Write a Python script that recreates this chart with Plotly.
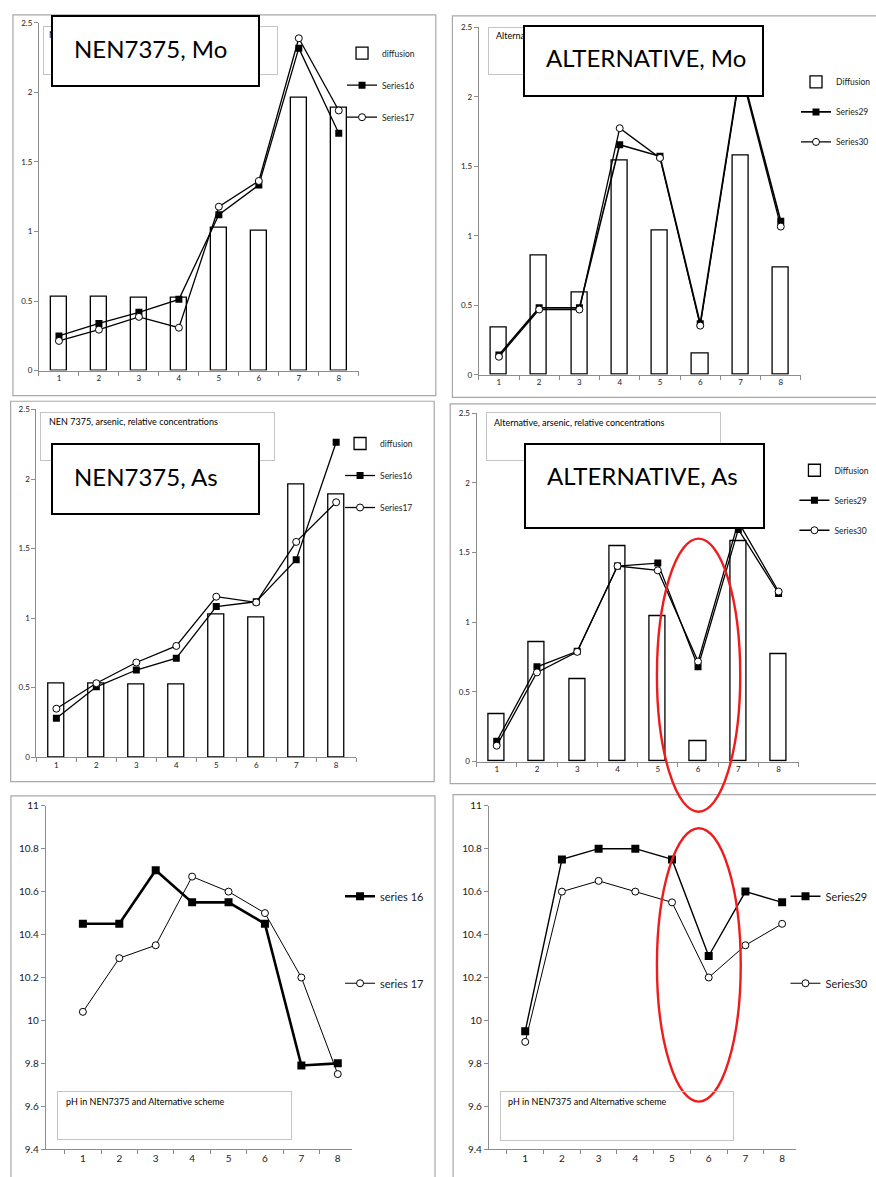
import plotly.graph_objects as go

W, H = 876, 1177

# ---------------------------------------------------------------- data
categories = ["1", "2", "3", "4", "5", "6", "7", "8"]

nen_diffusion = [0.533, 0.530, 0.525, 0.520, 1.026, 1.007, 1.962, 1.890]
alt_diffusion = [0.342, 0.856, 0.592, 1.545, 1.042, 0.150, 1.578, 0.774]

nen_mo_series16 = [0.249, 0.339, 0.419, 0.512, 1.121, 1.334, 2.318, 1.706]
nen_mo_series17 = [0.213, 0.294, 0.386, 0.308, 1.178, 1.363, 2.389, 1.870]
alt_mo_series29 = [0.143, 0.482, 0.482, 1.656, 1.573, 0.368, 2.21, 1.105]
alt_mo_series30 = [0.130, 0.470, 0.470, 1.775, 1.561, 0.354, 2.19, 1.067]

nen_as_series16 = [0.280, 0.506, 0.627, 0.712, 1.083, 1.118, 1.420, 2.265]
nen_as_series17 = [0.349, 0.532, 0.681, 0.800, 1.154, 1.113, 1.548, 1.833]
alt_as_series29 = [0.145, 0.680, 0.791, 1.403, 1.424, 0.680, 1.666, 1.206]
alt_as_series30 = [0.114, 0.640, 0.787, 1.403, 1.372, 0.718, 1.720, 1.220]

ph_series16 = [10.45, 10.45, 10.70, 10.55, 10.55, 10.45, 9.79, 9.80]
ph_series17 = [10.04, 10.29, 10.35, 10.67, 10.60, 10.50, 10.20, 9.75]
ph_series29 = [9.95, 10.75, 10.80, 10.80, 10.75, 10.30, 10.60, 10.55]
ph_series30 = [9.90, 10.60, 10.65, 10.60, 10.55, 10.20, 10.35, 10.45]

conc_ticks = [0, 0.5, 1, 1.5, 2, 2.5]
conc_tick_labels = ["0", "0.5", "1", "1.5", "2", "2.5"]
ph_ticks = [9.4, 9.6, 9.8, 10.0, 10.2, 10.4, 10.6, 10.8, 11.0]
ph_tick_labels = ["9.4", "9.6", "9.8", "10", "10.2", "10.4", "10.6", "10.8", "11"]

FONT = "Lato, Carlito, Calibri, sans-serif"
AXIS_GREY = "#8c8c8c"
FRAME_GREY = "#a8a8a8"
BOX_GREY = "#c4c4c4"
INK = "#1a1a1a"


def fx(p):
    return p / W


def fy(p):
    return 1 - p / H


fig = go.Figure()


def add_bar(n, name, values, legend):
    fig.add_trace(go.Bar(
        x=categories, y=values, name=name, width=0.4,
        marker=dict(color="white", line=dict(color="black", width=1.3)),
        xaxis=f"x{n}", yaxis=f"y{n}", legend=legend, legendgroup=f"{legend}-{name}",
    ))


def add_line(n, name, values, filled, legend, width=1.3, size=7):
    if filled:
        marker = dict(symbol="square", size=size, color="black",
                      line=dict(color="black", width=0))
    else:
        marker = dict(symbol="circle", size=size, color="white",
                      line=dict(color="black", width=1))
    fig.add_trace(go.Scatter(
        x=categories, y=values, name=name, mode="lines+markers",
        line=dict(color="black", width=width), marker=marker,
        xaxis=f"x{n}", yaxis=f"y{n}", legend=legend, legendgroup=f"{legend}-{name}",
    ))


# concentration panels: bars + two lines
add_bar(1, "diffusion", nen_diffusion, "legend")
add_line(1, "Series16", nen_mo_series16, True, "legend")
add_line(1, "Series17", nen_mo_series17, False, "legend")

add_bar(2, "Diffusion", alt_diffusion, "legend2")
add_line(2, "Series29", alt_mo_series29, True, "legend2", width=1.6)
add_line(2, "Series30", alt_mo_series30, False, "legend2")

add_bar(3, "diffusion", nen_diffusion, "legend3")
add_line(3, "Series16", nen_as_series16, True, "legend3")
add_line(3, "Series17", nen_as_series17, False, "legend3")

add_bar(4, "Diffusion", alt_diffusion, "legend4")
add_line(4, "Series29", alt_as_series29, True, "legend4")
add_line(4, "Series30", alt_as_series30, False, "legend4")

# pH panels
add_line(5, "series 16", ph_series16, True, "legend5", width=2.6, size=8)
add_line(5, "series 17", ph_series17, False, "legend5", width=1.0, size=7)
add_line(6, "Series29", ph_series29, True, "legend6", width=1.4, size=8)
add_line(6, "Series30", ph_series30, False, "legend6", width=1.0, size=7)

# ---------------------------------------------------------------- axes
layout = dict(
    width=W, height=H, margin=dict(l=0, r=0, t=0, b=0),
    paper_bgcolor="white", plot_bgcolor="white",
    font=dict(family=FONT, color=INK),
    bargap=0, showlegend=True,
)


def set_axes(n, x0, x1, ytop, ybot, xrange, yrange, ytv, ytt, fsize):
    suffix = "" if n == 1 else str(n)
    layout[f"xaxis{suffix}"] = dict(
        domain=[fx(x0), fx(x1)], anchor=f"y{n}", type="category",
        categoryorder="array", categoryarray=categories,
        range=xrange, tickson="boundaries", ticks="outside", ticklen=4,
        tickcolor=AXIS_GREY, showline=True, linecolor=AXIS_GREY, linewidth=1,
        showgrid=False, zeroline=False, tickfont=dict(size=fsize, color=INK),
        fixedrange=True,
    )
    layout[f"yaxis{suffix}"] = dict(
        domain=[fy(ybot), fy(ytop)], anchor=f"x{n}", range=yrange,
        tickvals=ytv, ticktext=ytt, ticks="outside", ticklen=4,
        tickcolor=AXIS_GREY, showline=True, linecolor=AXIS_GREY, linewidth=1,
        showgrid=False, zeroline=False, tickfont=dict(size=fsize, color=INK),
        fixedrange=True,
    )


set_axes(1, 39.2, 360.8, 17.0, 368.0, [-0.5, 7.5], [0, 2.5], conc_ticks, conc_tick_labels, 8)
set_axes(2, 481.5, 805.5, 21.7, 372.3, [-0.5, 7.5], [0, 2.5], conc_ticks, conc_tick_labels, 8)
set_axes(3, 36.6, 358.2, 407.3, 758.3, [-0.5, 7.5], [0, 2.5], conc_ticks, conc_tick_labels, 8)
set_axes(4, 479.3, 803.3, 411.0, 762.7, [-0.5, 7.5], [0, 2.5], conc_ticks, conc_tick_labels, 8)
set_axes(5, 46.0, 354.0, 807.3, 1154.0, [-1.02, 7.39], [9.4, 11], ph_ticks, ph_tick_labels, 10)
set_axes(6, 491.7, 801.0, 807.3, 1154.0, [-0.99, 7.39], [9.4, 11], ph_ticks, ph_tick_labels, 10)


# ---------------------------------------------------------------- legends
def legend_at(left, top, fsize, gap):
    return dict(x=fx(left), y=fy(top), xanchor="left", yanchor="top",
                bgcolor="rgba(0,0,0,0)", borderwidth=0,
                font=dict(size=fsize, color=INK), tracegroupgap=gap,
                itemwidth=30, traceorder="grouped", itemclick=False,
                itemdoubleclick=False)


layout["legend"] = legend_at(344, 33, 8.5, 13)
layout["legend2"] = legend_at(801, 62, 8.5, 11)
layout["legend3"] = legend_at(342, 427, 8.5, 13)
layout["legend4"] = legend_at(799, 454, 8.5, 11)
layout["legend5"] = legend_at(342, 884, 11, 68)
layout["legend6"] = legend_at(790, 884, 11, 68)

# ---------------------------------------------------------------- frames / ellipses
shapes = []
for (x0, y0, x1, y1) in [(13, 9, 438.3, 393.3), (455, 10, 890, 395),
                         (10.7, 399, 436.7, 783), (452.8, 401.7, 890, 785),
                         (11, 797.3, 437.5, 1200), (455.7, 796, 890, 1200)]:
    shapes.append(dict(type="rect", xref="paper", yref="paper",
                       x0=fx(x0), x1=fx(x1), y0=fy(y0), y1=fy(y1),
                       line=dict(color=FRAME_GREY, width=1.2), layer="below"))

for (x0, y0, x1, y1) in [(660.7, 537.7, 744.5, 813.3), (660.7, 830.0, 745.0, 1106.0)]:
    shapes.append(dict(type="circle", xref="paper", yref="paper",
                       x0=fx(x0), x1=fx(x1), y0=fy(y0), y1=fy(y1),
                       line=dict(color="#ee1c1c", width=2.4), layer="above"))
layout["shapes"] = shapes

# ---------------------------------------------------------------- boxes and labels
annotations = []


def box(x0, y0, x1, y1, color, bw, bg):
    annotations.append(dict(
        xref="paper", yref="paper", x=fx(x0), y=fy(y0), xanchor="left", yanchor="top",
        text=" ", showarrow=False, width=max(1, x1 - x0 - 2 * bw),
        height=max(1, y1 - y0 - 2 * bw), borderpad=0, borderwidth=bw,
        bordercolor=color, bgcolor=bg))


def label(x, ymid, txt, size):
    annotations.append(dict(
        xref="paper", yref="paper", x=fx(x), y=fy(ymid), xanchor="left", yanchor="middle",
        text=txt, showarrow=False, font=dict(size=size, color="black", family=FONT)))


# chart titles in light grey boxes (the Mo titles sit mostly under the scheme labels)
box(43, 20, 278.3, 69.3, BOX_GREY, 1, "white")
label(47, 29, "N", 9)
box(490.7, 20.7, 725, 69, BOX_GREY, 1, "white")
label(497.3, 30, "Alterna", 9)
box(40, 410, 275.3, 459.3, BOX_GREY, 1, "white")
label(47.3, 419.3, "NEN 7375, arsenic, relative concentrations", 9)
box(488.3, 410, 723.3, 459.3, BOX_GREY, 1, "white")
label(495, 420, "Alternative, arsenic, relative concentrations", 9)
box(57.3, 1095.7, 292.3, 1145, BOX_GREY, 1, "rgba(0,0,0,0)")
label(64.3, 1105.7, "pH in NEN7375 and Alternative scheme", 9)
box(503.3, 1095.7, 737.7, 1145.3, BOX_GREY, 1, "rgba(0,0,0,0)")
label(509.3, 1105.7, "pH in NEN7375 and Alternative scheme", 9)

# large scheme labels
box(51.7, 9, 260.3, 81, "black", 2, "white")
label(72.7, 43.3, "NEN7375, Mo", 24)
box(526, 19, 767.3, 91, "black", 2, "white")
label(546.7, 52.3, "ALTERNATIVE, Mo", 24)
box(51.7, 441, 260.3, 513.3, "black", 2, "white")
label(72.7, 475, "NEN7375, As", 24)
box(526.7, 440.7, 767.7, 527, "black", 2, "white")
label(547.7, 474.3, "ALTERNATIVE, As", 24)

layout["annotations"] = annotations

fig.update_layout(**layout)
fig.write_html("out.html", config={"displayModeBar": False})
